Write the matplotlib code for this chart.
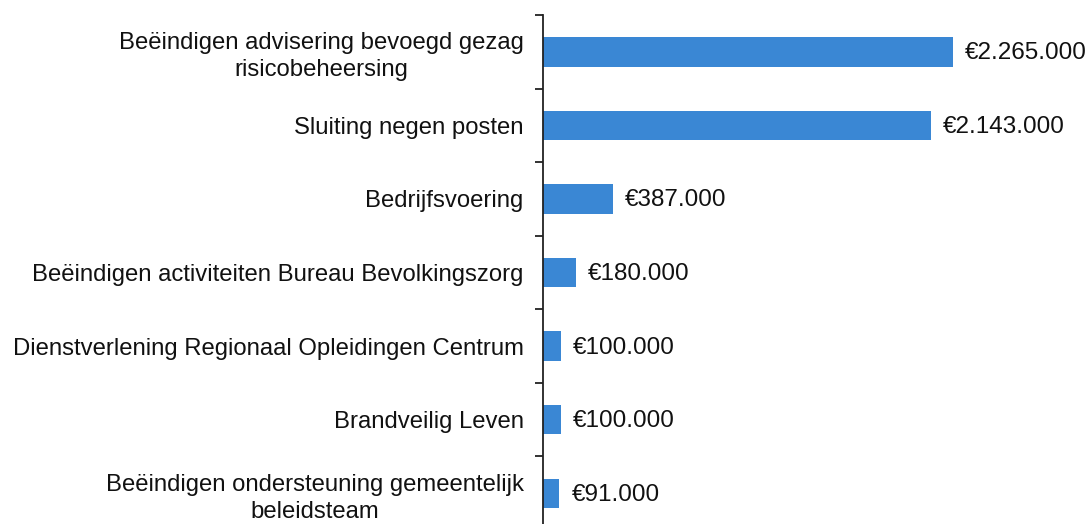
import matplotlib
matplotlib.use("Agg")
import matplotlib.pyplot as plt
import numpy as np

categories = [
    "Beëindigen advisering bevoegd gezag\nrisicobeheersing",
    "Sluiting negen posten",
    "Bedrijfsvoering",
    "Beëindigen activiteiten Bureau Bevolkingszorg",
    "Dienstverlening Regionaal Opleidingen Centrum",
    "Brandveilig Leven",
    "Beëindigen ondersteuning gemeentelijk\nbeleidsteam",
]
values = [2265000, 2143000, 387000, 180000, 100000, 100000, 91000]

plt.rcParams['font.family'] = ['Liberation Sans', 'DejaVu Sans']

fig = plt.figure(figsize=(10.91, 5.24), dpi=100)
ax = fig.add_axes([543/1091, -6/524, 548/1091, 515/524])

y = np.arange(len(categories))
color = '#3a87d4'
ax.barh(y, values, height=0.4, color=color)
ax.set_ylim(len(categories) - 0.5, -0.5)
ax.set_xlim(0, 3.03e6)

for yi, v in zip(y, values):
    label = "€" + f"{v:,}".replace(",", ".")
    ax.text(v + 66000, yi + 0.02, label, va='center', ha='left', fontsize=17.5, color='#111111')

ax.set_yticks(y)
ax.set_yticklabels(categories, fontsize=17.2, color='#111111', multialignment='center',
                   linespacing=1.3)
ax.tick_params(axis='y', which='major', length=0, pad=14)
ax.set_yticks(np.arange(-0.5, len(categories) + 0.5, 1), minor=True)
ax.tick_params(axis='y', which='minor', length=6, width=1.3, color='#222222')

ax.xaxis.set_visible(False)
for s in ['top', 'right', 'bottom']:
    ax.spines[s].set_visible(False)
ax.spines['left'].set_color('#222222')
ax.spines['left'].set_linewidth(1.3)

fig.savefig("out.png", dpi=100)
